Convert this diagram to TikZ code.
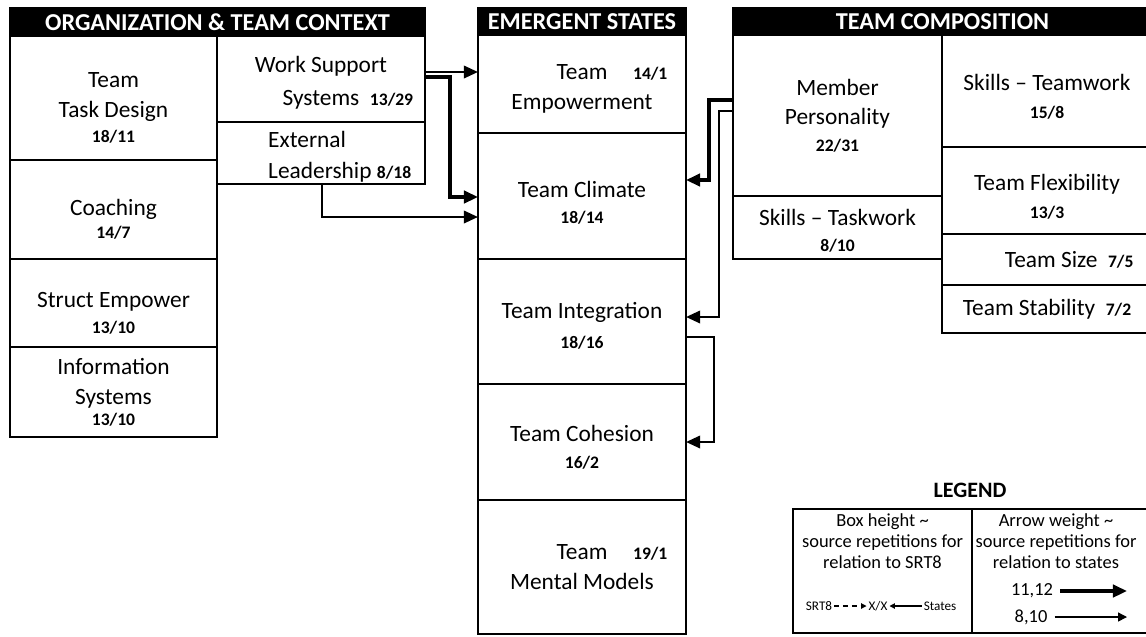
\documentclass[tikz,border=0pt]{standalone}
\usepackage{fontspec}
\setmainfont{Carlito}
\usetikzlibrary{arrows.meta, positioning}
\tikzstyle{block} = [draw, line width=1pt, inner sep=0, outer sep=0, align=center, font=\fontsize{13.3}{17}\selectfont]
\tikzstyle{header} = [draw, fill=black, text=white, line width=1pt, inner sep=0, outer sep=0, font=\bfseries\fontsize{13.8}{15}\selectfont]
\tikzstyle{link} = [->, line width=1.4pt]
\tikzstyle{heavylink} = [->, line width=2.8pt]
\tikzstyle{legtext} = [align=center, inner sep=1pt, font=\fontsize{10.5}{12}\selectfont]
\newcommand{\cnt}[1]{{\bfseries\fontsize{10}{12}\selectfont #1}}
\newcommand{\topgap}[1]{\rule{0pt}{#1}}

\begin{document}
\begin{tikzpicture}[>={Triangle[length=8pt,width=7pt]}]
      \useasboundingbox (0,0) rectangle (22.92,-12.72);

      % organization & team context
      \node[header, minimum width=8.30cm, minimum height=0.56cm] (orghead) at (4.35, -0.44) {ORGANIZATION \& TEAM CONTEXT};
      \node[block, minimum width=4.14cm, minimum height=2.48cm] (tdes) at (2.27, -1.96) {\topgap{19.7pt}Team\\Task Design\\[-3pt]\cnt{18/11}};
      \node[block, minimum width=4.14cm, minimum height=1.98cm] (coach) at (2.27, -4.19) {\topgap{20pt}Coaching\\[-4pt]\cnt{14/7}};
      \node[block, minimum width=4.14cm, minimum height=1.76cm] (sempow) at (2.27, -6.06) {\topgap{20pt}Struct Empower\\[-2pt]\cnt{13/10}};
      \node[block, minimum width=4.14cm, minimum height=1.80cm] (infosys) at (2.27, -7.84) {Information\\Systems\\[-5pt]\cnt{13/10}};
      \node[block, minimum width=4.16cm, minimum height=1.72cm] (wss) at (6.42, -1.58) {\topgap{13.2pt}Work Support\\[2pt]\hspace*{2.3em}Systems~~\cnt{13/29}};
      \node[block, align=left, minimum width=4.16cm, minimum height=1.24cm] (extlead) at (6.42, -3.06) {\topgap{13.7pt}\hspace*{1.6em}External\\[1pt]\hspace*{1.6em}Leadership~\cnt{8/18}};

      % emergent states
      \node[header, minimum width=4.16cm, minimum height=0.54cm] (emhead) at (11.64, -0.43) {EMERGENT STATES};
      \node[block, minimum width=4.16cm, minimum height=1.96cm] (empow) at (11.64, -1.68) {\topgap{14.1pt}Team\rlap{\hspace{1.1em}\cnt{14/1}}\\Empowerment};
      \node[block, minimum width=4.16cm, minimum height=2.52cm] (climate) at (11.64, -3.92) {\topgap{16.6pt}Team Climate\\[-2pt]\cnt{18/14}};
      \node[block, minimum width=4.16cm, minimum height=2.50cm] (integ) at (11.64, -6.43) {\topgap{13.8pt}Team Integration\\\cnt{18/16}};
      \node[block, minimum width=4.16cm, minimum height=2.32cm] (cohes) at (11.64, -8.84) {\topgap{15.4pt}Team Cohesion\\[-2pt]\cnt{16/2}};
      \node[block, minimum width=4.16cm, minimum height=2.68cm] (mental) at (11.64, -11.34) {Team\rlap{\hspace{1.1em}\cnt{19/1}}\\Mental Models};

      % team composition
      \node[header, minimum width=8.38cm, minimum height=0.54cm] (comphead) at (18.85, -0.43) {TEAM COMPOSITION};
      \node[block, minimum width=4.18cm, minimum height=3.22cm] (persona) at (16.75, -2.31) {Member\\Personality\\[-2pt]\cnt{22/31}};
      \node[block, minimum width=4.18cm, minimum height=1.26cm] (taskwork) at (16.75, -4.55) {\topgap{13.2pt}Skills -- Taskwork\\[-2pt]\cnt{8/10}};
      \node[block, minimum width=4.20cm, minimum height=2.24cm] (teamwork) at (20.94, -1.82) {\topgap{16pt}Skills -- Teamwork\\[-1pt]\cnt{15/8}};
      \node[block, minimum width=4.20cm, minimum height=1.74cm] (flex) at (20.94, -3.81) {\topgap{16pt}Team Flexibility\\[-1pt]\cnt{13/3}};
      \node[block, minimum width=4.20cm, minimum height=1.02cm] (tsize) at (20.94, -5.19) {\hspace*{1.9em}Team Size~~\cnt{7/5}};
      \node[block, minimum width=4.20cm, minimum height=0.96cm] (stabil) at (20.94, -6.18) {Team Stability~~\cnt{7/2}};

      % links into the states
      \draw[link] (wss.east |- 0,-1.44) -- (empow.west |- 0,-1.44);
      \draw[heavylink] (wss.east |- 0,-1.54) -| (9.00,-3.94) -- (climate.west |- 0,-3.94);
      \draw[link] (extlead.south -| 6.44,0) |- (climate.west |- 0,-4.34);
      \draw[heavylink] (persona.west |- 0,-2.00) -| (14.18,-3.60) -- (climate.east |- 0,-3.60);
      \draw[link] (persona.west |- 0,-2.22) -| (14.38,-6.34) -- (integ.east |- 0,-6.34);
      \draw[link] (integ.east |- 0,-6.74) -| (14.28,-8.84) -- (cohes.east);

      % legend
      \node[font=\bfseries\fontsize{12.5}{14}\selectfont] (legtitle) at (19.40, -9.80) {LEGEND};
      \node[block, minimum width=3.58cm, minimum height=2.48cm] (legleft) at (17.65, -11.42) {};
      \node[block, minimum width=3.60cm, minimum height=2.48cm] (legright) at (21.24, -11.42) {};
      \node[legtext] (boxnote) at (17.65, -10.83) {Box height \textasciitilde\\source repetitions for\\relation to SRT8};
      \node[legtext] (arrownote) at (21.12, -10.83) {Arrow weight \textasciitilde\\source repetitions for\\relation to states};
      \node[font=\fontsize{7.5}{9}\selectfont, inner sep=1pt] (srt) at (16.38, -12.12) {SRT8};
      \node[font=\fontsize{7.5}{9}\selectfont, inner sep=1pt] (xx) at (17.56, -12.12) {X/X};
      \node[font=\fontsize{7.5}{9}\selectfont, inner sep=1pt] (states) at (18.80, -12.12) {States};
      \draw[->, >={Triangle[length=3pt,width=3pt]}, densely dashed, line width=0.6pt] (srt) -- (xx);
      \draw[->, >={Triangle[length=3pt,width=3pt]}, line width=0.6pt] (states) -- (xx);
      \node[legtext] (heavykey) at (20.64, -11.82) {11,12};
      \node[legtext] (lightkey) at (20.62, -12.34) {8,10};
      \coordinate (heavyend) at (22.54, -11.82);
      \coordinate (lightend) at (22.54, -12.34);
      \draw[heavylink, shorten <=3pt] (heavykey) -- (heavyend);
      \draw[->, >={Triangle[length=5pt,width=5pt]}, line width=0.8pt, shorten <=3pt] (lightkey) -- (lightend);
\end{tikzpicture}
\end{document}
